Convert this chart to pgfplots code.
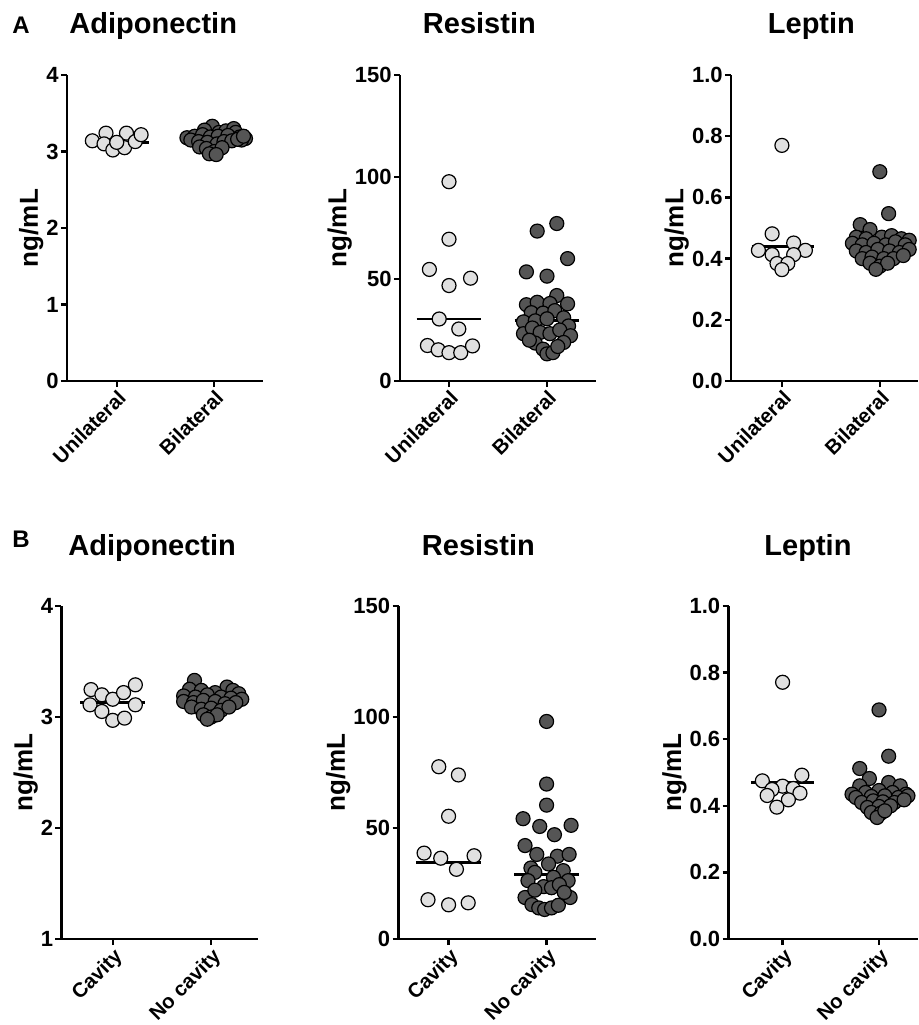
\documentclass[border=0pt]{standalone}
\usepackage{fontspec}
\setmainfont{Liberation Sans}
\usepackage{pgfplots}
\pgfplotsset{compat=1.18}
\definecolor{lightdot}{RGB}{224,224,224}
\definecolor{darkdot}{RGB}{85,85,85}

\pgfplotsset{
  dotplot/.style={
    scale only axis,
    axis lines=left,
    axis line style={-, line width=1.4pt, black},
    xtick={0,1},
    tick align=outside,
    major tick length=3pt,
    tick style={black, line width=1.2pt},
    clip=false,
    /pgf/number format/assume math mode=true,
    tick label style={font=\fontsize{11}{13}\selectfont\bfseries},
    yticklabel style={inner sep=1pt},
    xticklabel style={rotate=45, anchor=north east, inner sep=0.5pt,
                      font=\fontsize{10.2}{12}\selectfont\bfseries},
    ylabel={ng/mL},
    ylabel shift=-3pt,
    ylabel style={font=\fontsize{13}{15}\selectfont\bfseries},
    title style={font=\fontsize{14.5}{17}\selectfont\bfseries, anchor=base},
  },
  light/.style={only marks, mark=*, mark size=3.5pt,
                mark options={fill=lightdot, draw=black, line width=0.6pt}},
  dark/.style={only marks, mark=*, mark size=3.5pt,
               mark options={fill=darkdot, draw=black, line width=0.6pt}},
  med/.style={black, line width=1.4pt, no marks},
  rowA/.style={dotplot, height=153pt, xticklabels={Unilateral,Bilateral}},
  rowB/.style={dotplot, height=166.5pt, xticklabels={Cavity,No cavity}},
  adipo/.style={title={Adiponectin}},
  resis/.style={title={Resistin}, ymin=0, ymax=150, ytick={0,50,100,150}},
  lept/.style={title={Leptin}, ymin=0, ymax=1, ytick={0,0.2,0.4,0.6,0.8,1.0},
    yticklabel style={/pgf/number format/.cd, fixed, fixed zerofill, precision=1}},
}

\begin{document}
\begin{tikzpicture}
\path[use as bounding box] (0,0) rectangle (459.5pt,-512.5pt);

\node[font=\fontsize{12}{14}\selectfont\bfseries] at (10.5pt,-12.8pt) {A};
\node[font=\fontsize{12}{14}\selectfont\bfseries] at (10.5pt,-269.5pt) {B};

% ---------- A: Adiponectin
\begin{axis}[rowA, adipo, at={(33.5pt,-190.5pt)}, anchor=south west,
  width=98pt, xmin=-0.51, xmax=1.5, ymin=0, ymax=4, ytick={0,1,2,3,4},
  title style={at={(0.44,1)}, yshift=15pt}]
\addplot[light] coordinates {(-0.25,3.14) (-0.11,3.24) (-0.13,3.10) (-0.04,3.02)
  (0.08,3.05) (0.10,3.24) (0.19,3.13) (0.25,3.22) (0.00,3.12)};
\addplot[dark] coordinates {(0.98,3.33) (0.90,3.28) (1.05,3.25) (1.12,3.27)
  (1.20,3.30) (1.22,3.25) (0.72,3.18) (0.80,3.20) (0.88,3.22) (0.96,3.19)
  (1.04,3.20) (1.14,3.21) (1.26,3.19) (1.32,3.17) (0.76,3.15) (0.84,3.13)
  (0.93,3.12) (1.03,3.10) (1.10,3.13) (1.18,3.14) (1.28,3.15) (0.85,3.06)
  (0.92,3.04) (1.00,3.00) (1.08,3.05) (0.95,2.97) (1.02,2.96) (1.24,3.16)
  (1.30,3.20)};
\addplot[med] coordinates {(-0.33,3.12) (0.33,3.12)};
\addplot[med] coordinates {(0.67,3.16) (1.33,3.16)};
\end{axis}

% ---------- A: Resistin
\begin{axis}[rowA, resis, at={(200pt,-190.5pt)}, anchor=south west,
  width=98pt, xmin=-0.5, xmax=1.5,
  title style={at={(0.405,1)}, yshift=15pt}]
\addplot[light] coordinates {(0.00,97.7) (0.00,69.5) (-0.20,54.7) (0.00,46.8)
  (0.22,50.4) (-0.10,30.4) (0.10,25.5) (-0.22,17.4) (-0.11,15.3) (0.00,13.9)
  (0.12,13.9) (0.24,17.2)};
\addplot[dark] coordinates {(1.10,77.2) (0.90,73.5) (1.21,60.0) (0.79,53.5)
  (1.00,51.4) (1.10,41.9) (0.79,37.4) (0.90,38.6) (1.21,37.8) (1.03,38.0)
  (0.84,33.5) (0.96,33.3) (1.08,34.5) (1.17,31.0) (0.76,29.0) (0.88,29.5)
  (1.00,30.5) (1.22,27.0) (0.76,23.2) (0.85,26.0) (0.93,23.8) (1.03,23.2)
  (1.13,25.0) (1.24,22.2) (0.88,18.6) (1.17,18.9) (0.96,15.6) (1.00,13.3)
  (1.06,13.9) (1.11,16.9) (0.82,20.0)};
\addplot[med] coordinates {(-0.33,30.4) (0.33,30.4)};
\addplot[med] coordinates {(0.67,29.7) (1.33,29.7)};
\end{axis}

% ---------- A: Leptin
\begin{axis}[rowA, lept, at={(365.5pt,-190.5pt)}, anchor=south west,
  width=93.5pt, xmin=-0.52, xmax=1.39,
  title style={at={(0.43,1)}, yshift=15pt}]
\addplot[light] coordinates {(0.00,0.770) (-0.10,0.481) (0.12,0.451) (-0.24,0.427)
  (0.24,0.427) (-0.10,0.413) (0.12,0.413) (-0.05,0.384) (0.06,0.384) (0.00,0.364)};
\addplot[dark] coordinates {(1.00,0.684) (1.09,0.547) (0.80,0.511) (0.90,0.495)
  (0.76,0.470) (0.86,0.465) (1.02,0.470) (1.12,0.475) (1.22,0.465) (1.30,0.460)
  (0.72,0.450) (0.82,0.445) (0.94,0.450) (1.06,0.445) (1.16,0.455) (1.26,0.445)
  (0.76,0.425) (0.86,0.420) (0.98,0.430) (1.10,0.425) (1.20,0.420) (1.30,0.430)
  (0.82,0.400) (0.92,0.405) (1.04,0.400) (1.14,0.400) (1.24,0.410) (0.90,0.385)
  (1.00,0.375) (1.08,0.385) (0.96,0.365)};
\addplot[med] coordinates {(-0.31,0.440) (0.33,0.440)};
\addplot[med] coordinates {(0.67,0.438) (1.33,0.438)};
\end{axis}

% ---------- B: Adiponectin
\begin{axis}[rowB, adipo, at={(30.75pt,-469.5pt)}, anchor=south west,
  width=98.5pt, xmin=-0.52, xmax=1.48, ymin=1, ymax=4, ytick={1,2,3,4},
  title style={at={(0.46,1)}, yshift=19.5pt}]
\addplot[light] coordinates {(-0.22,3.247) (-0.11,3.20) (0.00,3.16) (0.11,3.22)
  (0.23,3.29) (-0.23,3.11) (0.23,3.11) (-0.11,3.05) (0.00,2.97) (0.12,2.99)};
\addplot[dark] coordinates {(0.83,3.33) (1.16,3.27) (0.78,3.25) (0.90,3.24)
  (1.04,3.22) (1.22,3.24) (1.28,3.21) (0.72,3.19) (0.84,3.18) (0.96,3.20)
  (1.10,3.18) (1.20,3.17) (1.31,3.16) (0.72,3.14) (0.82,3.13) (0.92,3.15)
  (1.04,3.14) (1.14,3.12) (1.25,3.13) (0.80,3.09) (0.90,3.07) (1.00,3.08)
  (1.10,3.06) (1.18,3.09) (0.92,3.02) (1.00,3.00) (1.06,3.02) (0.96,2.98)};
\addplot[med] coordinates {(-0.33,3.13) (0.33,3.13)};
\addplot[med] coordinates {(0.67,3.16) (1.33,3.16)};
\end{axis}

% ---------- B: Resistin
\begin{axis}[rowB, resis, at={(199.3pt,-469.5pt)}, anchor=south west,
  width=98.5pt, xmin=-0.51, xmax=1.5,
  title style={at={(0.405,1)}, yshift=19.5pt}]
\addplot[light] coordinates {(-0.10,77.6) (0.10,73.9) (0.00,55.3) (-0.25,38.7)
  (-0.08,36.4) (0.26,37.5) (0.08,31.4) (-0.21,17.7) (0.00,15.4) (0.20,16.3)};
\addplot[dark] coordinates {(1.00,98.0) (1.00,69.8) (1.00,60.3) (0.76,54.2)
  (0.93,50.7) (1.25,51.2) (1.08,47.0) (0.78,42.1) (0.90,38.1) (1.11,37.3)
  (1.23,38.1) (1.02,33.8) (0.84,32.0) (0.88,30.0) (1.17,30.8) (0.81,26.3)
  (1.07,27.8) (1.22,26.3) (0.97,23.6) (1.05,23.1) (1.13,24.5) (0.78,18.7)
  (1.24,18.7) (0.85,15.5) (0.92,14.0) (0.98,13.3) (1.05,14.0) (1.12,15.2)
  (1.18,21.0) (0.88,22.0)};
\addplot[med] coordinates {(-0.33,34.4) (0.33,34.4)};
\addplot[med] coordinates {(0.67,29.0) (1.33,29.0)};
\end{axis}

% ---------- B: Leptin
\begin{axis}[rowB, lept, at={(364.3pt,-469.5pt)}, anchor=south west,
  width=94.5pt, xmin=-0.56, xmax=1.40,
  title style={at={(0.42,1)}, yshift=19.5pt}]
\addplot[light] coordinates {(0.00,0.771) (-0.21,0.475) (0.20,0.492) (0.00,0.459)
  (-0.11,0.449) (0.11,0.452) (0.18,0.438) (-0.16,0.431) (0.06,0.418) (-0.06,0.396)};
\addplot[dark] coordinates {(1.00,0.688) (1.10,0.549) (0.80,0.512) (0.90,0.482)
  (1.10,0.470) (0.80,0.460) (1.22,0.460) (1.00,0.446) (0.72,0.435) (0.86,0.440)
  (1.14,0.440) (1.28,0.435) (0.76,0.425) (0.92,0.428) (1.06,0.430) (1.20,0.425)
  (1.30,0.430) (0.82,0.410) (0.94,0.415) (1.04,0.412) (1.16,0.410) (1.26,0.418)
  (0.88,0.395) (1.00,0.398) (1.12,0.400) (0.92,0.380) (1.02,0.378) (0.98,0.365)
  (1.06,0.385)};
\addplot[med] coordinates {(-0.33,0.470) (0.33,0.470)};
\addplot[med] coordinates {(0.67,0.431) (1.33,0.431)};
\end{axis}
\end{tikzpicture}
\end{document}
